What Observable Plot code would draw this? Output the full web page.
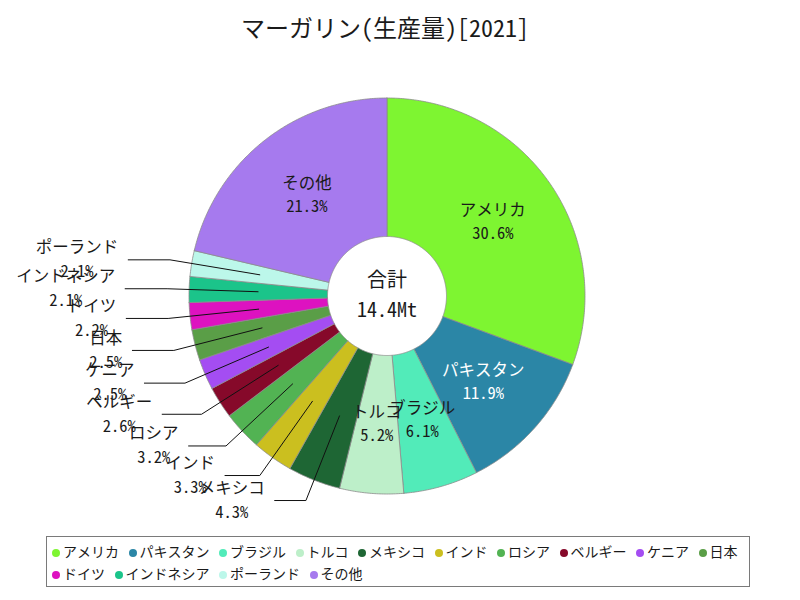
<!DOCTYPE html>
<html>
<head>
<meta charset="utf-8">
<script src="https://cdn.jsdelivr.net/npm/d3@7"></script>
<script src="https://cdn.jsdelivr.net/npm/@observablehq/plot@0.6"></script>
<style>
  html, body { margin: 0; padding: 0; background: #fff; }
  #wrap { position: relative; width: 800px; height: 600px; overflow: hidden;
          font-family: "Noto Sans Mono CJK JP", "Noto Sans CJK JP", sans-serif; color: #1a1a1a; }
  #title { position: absolute; left: 0; width: 770px; top: 11px; text-align: center;
           font-size: 24px; line-height: 32px; }
  #chart { position: absolute; left: 0; top: 0; }
  #legend { position: absolute; left: 46px; top: 536px; width: 704px; height: 51px;
            border: 1.5px solid #7a7a7a; box-sizing: border-box; padding: 3px 0 0 5px; font-size: 14px; }
  .row { height: 22px; line-height: 22px; white-space: nowrap; }
  .item { display: inline-block; margin-right: 9.5px; }
  .dot { display: inline-block; width: 8px; height: 8px; border-radius: 50%; margin-right: 3px; vertical-align: 0px; }
</style>
</head>
<body>
<div id="wrap">
  <div id="chart"></div>
  <div id="title"></div>
  <div id="legend"></div>
</div>
<script>
// ---- data ----
const title = "マーガリン(生産量)[2021]";
const names = ["アメリカ","パキスタン","ブラジル","トルコ","メキシコ","インド","ロシア","ベルギー","ケニア","日本","ドイツ","インドネシア","ポーランド","その他"];
const shares = [30.6, 11.9, 6.1, 5.2, 4.3, 3.3, 3.2, 2.6, 2.5, 2.5, 2.2, 2.1, 2.1, 21.3];
const colors = ["#7ef531","#2b86a6","#52ebb9","#bdefc9","#1e6634","#cbbf1f","#52b353","#86092a","#a44df2","#5a9e47","#dd12c0","#1bc48a","#bcf7ea","#a67aee"];
const whiteLabel = ["パキスタン"];
const totalLabel = "合計";
const totalValue = "14.4Mt";
const legendRows = [10, 4];

// ---- layout ----
const FONT = '"Noto Sans Mono CJK JP", "Noto Sans CJK JP", sans-serif';
const FS = 16.5;
const W = 800, H = 530;
const cx = 386.5, cy = 295.5, R = 198, R0 = 59.5, RL = 129, RE = 220;

const pie = d3.pie().sort(null).startAngle(0).endAngle(2 * Math.PI)(shares);
const pt = (a, r) => [cx + r * Math.sin(a), cy - r * Math.cos(a)];

const slicePts = [];
pie.forEach((p, i) => {
  const a0 = p.startAngle, a1 = p.endAngle;
  const n = Math.max(2, Math.ceil((a1 - a0) / (Math.PI / 360)));
  const ring = [];
  for (let k = 0; k <= n; k++) ring.push(pt(a0 + (a1 - a0) * k / n, R));
  for (let k = n; k >= 0; k--) ring.push(pt(a0 + (a1 - a0) * k / n, R0));
  ring.push(ring[0]);
  ring.forEach(([x, y]) => slicePts.push({name: names[i], x, y}));
});

const ctx = document.createElement("canvas").getContext("2d");
ctx.font = FS + "px " + FONT;
const measure = s => ctx.measureText(s).width;

const inside = [], outside = [], leaders = [];
pie.forEach((p, i) => {
  const m = (p.startAngle + p.endAngle) / 2;
  const pct = shares[i].toFixed(1) + "%";
  const [lx, ly] = pt(m, RL);
  if (shares[i] >= 5) {
    inside.push({name: names[i], pct, x: lx, y: ly, white: whiteLabel.includes(names[i])});
  } else {
    const [ex, ey] = pt(m, RE);
    const s = Math.sin(m) < 0 ? -1 : 1;
    const L = 25 + 17 * Math.abs(Math.sin(m));
    const endX = ex + s * L;
    leaders.push({name: names[i], x: lx, y: ly}, {name: names[i], x: ex, y: ey}, {name: names[i], x: endX, y: ey});
    const w = Math.max(measure(names[i]), measure(pct));
    outside.push({name: names[i], pct, x: endX + s * (10 + w / 2), y: ey});
  }
});
const center = [{t: totalLabel, dy: -15.5}, {t: totalValue, dy: 14.5}];

const chart = Plot.plot({
  width: W, height: H,
  margin: 0,
  x: {domain: [0, W], range: [0, W], axis: null},
  y: {domain: [0, H], range: [0, H], axis: null},
  color: {type: "ordinal", domain: names, range: colors},
  style: {fontFamily: FONT, fontSize: FS + "px", background: "transparent", overflow: "visible"},
  marks: [
    Plot.line(slicePts, {x: "x", y: "y", z: "name", fill: "name", stroke: "#8c8c8c", strokeWidth: 0.8, strokeLinejoin: "miter", curve: "linear"}),
    Plot.line(leaders, {x: "x", y: "y", z: "name", stroke: "#111", strokeWidth: 1, curve: "linear"}),
    Plot.text(inside.filter(d => !d.white), {x: "x", y: d => d.y - 11.5, text: "name", fill: "#1a1a1a", fontSize: FS}),
    Plot.text(inside.filter(d => !d.white), {x: "x", y: d => d.y + 11.5, text: "pct", fill: "#1a1a1a", fontSize: FS}),
    Plot.text(inside.filter(d => d.white), {x: "x", y: d => d.y - 11.5, text: "name", fill: "#ffffff", fontSize: FS}),
    Plot.text(inside.filter(d => d.white), {x: "x", y: d => d.y + 11.5, text: "pct", fill: "#ffffff", fontSize: FS}),
    Plot.text(outside, {x: "x", y: d => d.y - 12, text: "name", fill: "#1a1a1a", fontSize: FS}),
    Plot.text(outside, {x: "x", y: d => d.y + 12, text: "pct", fill: "#1a1a1a", fontSize: FS}),
    Plot.text(center, {x: () => cx, y: d => cy + d.dy, text: "t", fill: "#1a1a1a", fontSize: 20})
  ]
});
document.getElementById("chart").appendChild(chart);
document.getElementById("title").textContent = title;

// legend
const lg = document.getElementById("legend");
let idx = 0;
legendRows.forEach(n => {
  const row = document.createElement("div");
  row.className = "row";
  for (let k = 0; k < n; k++, idx++) {
    const it = document.createElement("span");
    it.className = "item";
    const dot = document.createElement("span");
    dot.className = "dot";
    dot.style.background = colors[idx];
    it.appendChild(dot);
    it.appendChild(document.createTextNode(names[idx]));
    row.appendChild(it);
  }
  lg.appendChild(row);
});
</script>
</body>
</html>
